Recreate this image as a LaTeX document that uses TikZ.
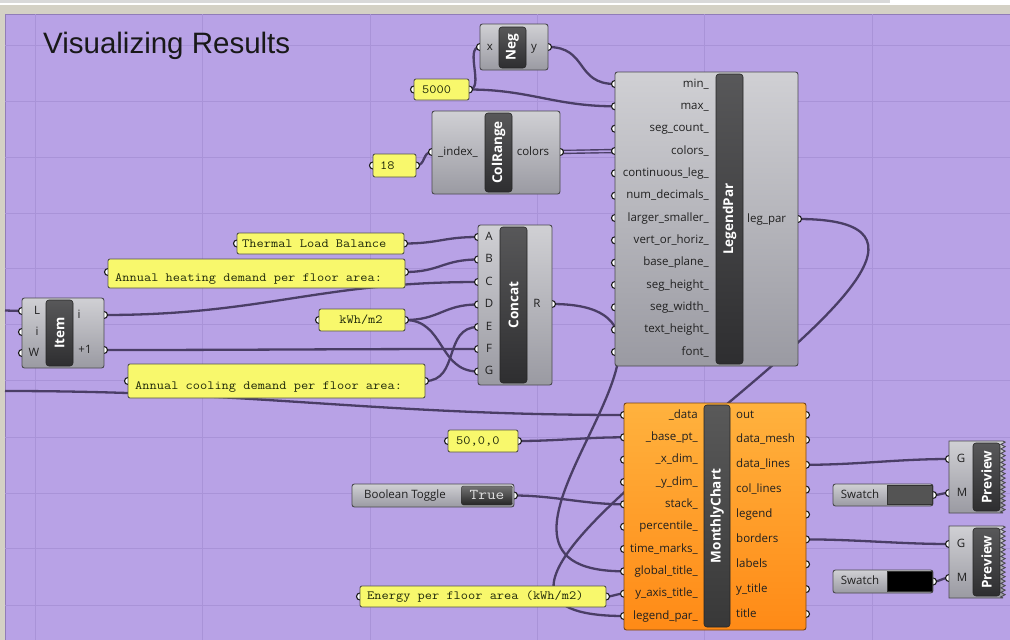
\documentclass[tikz,border=0pt]{standalone}
\usepackage{fontspec}
\usepackage{graphicx}
\setmainfont{Open Sans}
\newfontfamily\titlefamily{Liberation Sans}
\newcommand\ptx[1]{\scalebox{1.12}[1]{#1}}
\usetikzlibrary{decorations.pathmorphing}
\definecolor{bgpurple}{HTML}{B8A2E6}
\definecolor{gridcol}{HTML}{A993D8}
\definecolor{frame}{HTML}{D4D1C5}
\definecolor{compTop}{HTML}{D0D0D4}
\definecolor{compBot}{HTML}{9A9AA2}
\definecolor{compborder}{HTML}{4A4A4E}
\definecolor{barfill}{HTML}{2E2E30}
\definecolor{panelfill}{HTML}{F8F86C}
\definecolor{panelborder}{HTML}{55554A}
\definecolor{paneltext}{HTML}{1E280A}
\definecolor{wirecol}{HTML}{4A3E66}
\definecolor{labcol}{HTML}{202020}
\definecolor{orTop}{HTML}{FFB23E}
\definecolor{orBot}{HTML}{FF8A16}
\definecolor{orBorder}{HTML}{7A4414}
\pgfdeclarelayer{canvas}
\pgfdeclarelayer{wires}
\pgfsetlayers{canvas,wires,main}
\tikzset{
  comp/.style={draw=compborder, line width=0.9pt, rounded corners=2.5pt, top color=compTop, bottom color=compBot, inner sep=0pt},
  orcomp/.style={draw=orBorder, line width=0.9pt, rounded corners=2.5pt, top color=orTop, bottom color=orBot, inner sep=0pt},
  bar/.style={rotate=90, top color=barfill!80!white, bottom color=barfill, draw=black!85, line width=0.6pt, rounded corners=3pt, text=white, font=\fontsize{13.5}{14}\selectfont\bfseries, inner sep=0pt, minimum height=27pt},
  plab/.style={font=\fontsize{11.5}{12}\selectfont, text=labcol, inner sep=0pt, text height=8.5pt, text depth=2.5pt},
  panel/.style={draw=panelborder, fill=panelfill, rounded corners=2pt, line width=0.9pt, inner sep=0pt},
  ptxt/.style={font=\fontsize{12.5}{13}\selectfont\ttfamily, text=paneltext, inner sep=0pt, anchor=west},
  sptxt/.style={font=\fontsize{12.5}{13}\selectfont\ttfamily, text=paneltext, inner sep=0pt, anchor=west},
  port/.style={circle, draw=black!90, fill=white, line width=1.1pt, inner sep=0pt, minimum size=7pt},
  wire/.style={draw=wirecol, line width=2.3pt},
  zig/.style={decoration={zigzag, segment length=4.5pt, amplitude=2.2pt}}
}
\begin{document}
\begin{tikzpicture}[x=1pt,y=-1pt]
\useasboundingbox (0,0) rectangle (1010,640);
\begin{pgfonlayer}{canvas}
  \fill[white] (0,0) rectangle (1010,640);
  \fill[black!15] (0,0) rectangle (890,2.5);
  \fill[frame] (0,5) rectangle (1010,14);
  \fill[frame] (0,5) rectangle (5,640);
  \fill[bgpurple] (5,14) rectangle (1010,640);
  \draw[gridcol!85!black, line width=1pt] (5,14.5) -- (1010,14.5);
  \draw[gridcol!85!black, line width=1pt] (5.5,14) -- (5.5,640);
  \foreach \gx in {35,202,370,537,704,872} \draw[gridcol, line width=0.8pt] (\gx,14) -- (\gx,640);
  \foreach \gy in {45,101,157,213,268.5,324,380,437,493,548,605} \draw[gridcol, line width=0.8pt] (5,\gy) -- (1010,\gy);
\end{pgfonlayer}

\node[font=\titlefamily\fontsize{29.5}{30}\selectfont, text=black!90, anchor=base west, inner sep=0pt] (title) at (43,53) {Visualizing Results};

% ---------- Neg
\node[port] (neg-x) at (480,47) {};
\node[port] (neg-y) at (548,47) {};
\node[comp, minimum width=68pt, minimum height=46pt] (neg) at (514,47) {};
\node[bar, minimum width=41pt] (neg-bar) at (512.5,47.5) {Neg};
\node[plab] (neg-xl) at (490,47) {x};
\node[plab] (neg-yl) at (534,47) {y};

% ---------- 5000
\node[port] (p5000-in) at (414,89.5) {};
\node[port] (p5000-out) at (469,89.5) {};
\node[panel, minimum width=55pt, minimum height=21pt] (p5000) at (441.5,89.5) {};
\node[sptxt] (p5000-t) at (422,89.5) {\ptx{5000}};

% ---------- ColRange
\node[port] (cr-in) at (432,152) {};
\node[port] (cr-out) at (560,152) {};
\node[comp, minimum width=128pt, minimum height=83pt] (cr) at (496,152.5) {};
\node[bar, minimum width=79pt] (cr-bar) at (498.5,152.5) {ColRange};
\node[plab] (cr-inl) at (458,152) {\_index\_};
\node[plab] (cr-outl) at (533,152) {colors};

% ---------- 18
\node[port] (p18-in) at (373,165.5) {};
\node[port] (p18-out) at (416,165.5) {};
\node[panel, minimum width=43pt, minimum height=23pt] (p18) at (394.5,165.5) {};
\node[sptxt] (p18-t) at (380,165.5) {\ptx{18}};

% ---------- LegendPar
\foreach \n/\y in {min/84,max/106.3,segcount/128.7,colors/151,contleg/173.3,numdec/195.7,largsmall/218,vertor/240.3,baseplane/262.7,segheight/285,segwidth/307.3,textheight/329.7,font/352}
  \node[port] (lp-\n) at (615,\y) {};
\node[port] (lp-out) at (798,219) {};
\node[comp, minimum width=183pt, minimum height=294pt] (lp) at (706.5,219) {};
\node[bar, minimum width=290pt] (lp-bar) at (729.5,219) {LegendPar};
\foreach \n/\t/\y in {min/min\_/84,max/max\_/106.3,segcount/seg\_count\_/128.7,colors/colors\_/151,contleg/continuous\_leg\_/173.3,numdec/num\_decimals\_/195.7,largsmall/larger\_smaller\_/218,vertor/vert\_or\_horiz\_/240.3,baseplane/base\_plane\_/262.7,segheight/seg\_height\_/285,segwidth/seg\_width\_/307.3,textheight/text\_height\_/329.7,font/font\_/352}
  \node[plab, anchor=east] (lp-\n-l) at (709,\y) {\t};
\node[plab, anchor=west] (lp-out-l) at (747,219) {leg\_par};

% ---------- Concat
\foreach \n/\y in {A/237,B/259.5,C/282,D/304.5,E/327,F/349,G/371.5}
  \node[port] (cc-\n) at (478,\y) {};
\node[port] (cc-R) at (552,304) {};
\node[comp, minimum width=74pt, minimum height=160pt] (cc) at (515,305) {};
\node[bar, minimum width=156pt] (cc-bar) at (513.5,305) {Concat};
\foreach \n/\y in {A/237,B/259.5,C/282,D/304.5,E/327,F/349,G/371.5}
  \node[plab] (cc-\n-l) at (489,\y) {\n};
\node[plab] (cc-R-l) at (537,304) {R};

% ---------- Item
\node[port] (it-L) at (22,311) {};
\node[port] (it-i) at (22,332) {};
\node[port] (it-W) at (22,353) {};
\node[port] (it-oi) at (104,315) {};
\node[port] (it-op) at (104,350) {};
\node[comp, minimum width=82pt, minimum height=70pt] (it) at (63,333) {};
\node[bar, minimum width=66pt] (it-bar) at (59.5,333) {Item};
\node[plab] (it-L-l) at (37,311) {L};
\node[plab] (it-i-l) at (37,332) {i};
\node[plab] (it-W-l) at (34,353) {W};
\node[plab] (it-oi-l) at (79,315) {i};
\node[plab] (it-op-l) at (85,350) {+1};

% ---------- text panels
\node[port] (tlb-in) at (237,243.5) {};
\node[port] (tlb-out) at (404,243.5) {};
\node[panel, minimum width=167pt, minimum height=21pt] (tlb) at (320.5,243.5) {};
\node[ptxt] (tlb-t) at (242,243.5) {\ptx{Thermal Load Balance}};

\node[port] (heat-in) at (108,272) {};
\node[port] (heat-out) at (405,272) {};
\node[panel, minimum width=297pt, minimum height=29pt] (heat) at (256.5,273.5) {};
\node[ptxt] (heat-t) at (115,279) {\ptx{Annual heating demand per floor area:}};

\node[port] (kwh-in) at (319,320) {};
\node[port] (kwh-out) at (405,320) {};
\node[panel, minimum width=86pt, minimum height=22pt] (kwh) at (362,320) {};
\node[sptxt, anchor=center] (kwh-t) at (361,320) {\ptx{kWh/m2}};

\node[port] (cool-in) at (128,381) {};
\node[port] (cool-out) at (425,381) {};
\node[panel, minimum width=297pt, minimum height=34pt] (cool) at (276.5,381) {};
\node[ptxt] (cool-t) at (135,387) {\ptx{Annual cooling demand per floor area:}};

\node[port] (p50-in) at (448,441) {};
\node[port] (p50-out) at (518,441) {};
\node[panel, minimum width=70pt, minimum height=22pt] (p50) at (483,441) {};
\node[sptxt] (p50-t) at (456,441) {\ptx{50,0,0}};

\node[port] (en-in) at (360,596.5) {};
\node[port] (en-out) at (606,596.5) {};
\node[panel, minimum width=246pt, minimum height=21pt] (en) at (483,596.5) {};
\node[ptxt] (en-t) at (367,596.5) {\ptx{Energy per floor area (kWh/m2)}};

% ---------- Boolean toggle
\node[port] (bt-out) at (514,495.5) {};
\node[comp, minimum width=162pt, minimum height=23pt] (bt) at (433,495.5) {};
\node[draw=black!80, top color=black!55, bottom color=black!85, rounded corners=2pt, minimum width=51pt, minimum height=19pt, inner sep=0pt] (bt-v) at (487,495.5) {};
\node[font=\fontsize{15}{16}\selectfont\ttfamily, text=white!88!black, inner sep=0pt] (bt-vt) at (487,494.5) {\ptx{True}};
\node[plab] (bt-l) at (405,495.5) {Boolean Toggle};

% ---------- MonthlyChart
\foreach \n/\y in {data/415,base/437.3,xdim/459.7,ydim/482,stack/504.3,pct/526.7,tm/549,gt/571.3,yat/593.7,lgp/616}
  \node[port] (mc-\n) at (624,\y) {};
\foreach \n/\y in {out/415,mesh/439.9,dlines/464.8,clines/489.6,legend/514.5,borders/539.4,labels/564.3,ytitle/589.1,title/614}
  \node[port] (mc-\n) at (806,\y) {};
\node[orcomp, minimum width=182pt, minimum height=227pt] (mc) at (715,516.5) {};
\node[bar, minimum width=222pt, minimum height=26pt, top color=black!65, bottom color=black!78] (mc-bar) at (717,516) {MonthlyChart};
\foreach \n/\t/\y in {data/\_data/415,base/\_base\_pt\_/437.3,xdim/\_x\_dim\_/459.7,ydim/\_y\_dim\_/482,stack/stack\_/504.3,pct/percentile\_/526.7,tm/time\_marks\_/549,gt/global\_title\_/571.3,yat/y\_axis\_title\_/593.7,lgp/legend\_par\_/616}
  \node[plab, anchor=east] (mc-\n-l) at (698,\y) {\t};
\foreach \n/\t/\y in {out/out/415,mesh/data\_mesh/439.9,dlines/data\_lines/464.8,clines/col\_lines/489.6,legend/legend/514.5,borders/borders/539.4,labels/labels/564.3,ytitle/y\_title/589.1,title/title/614}
  \node[plab, anchor=west] (mc-\n-l) at (736,\y) {\t};

% ---------- Swatches
\node[port] (sw1-out) at (933,495) {};
\node[comp, minimum width=100pt, minimum height=22pt] (sw1) at (883,495) {};
\node[draw=black!80, fill=black!67, minimum width=45pt, minimum height=19pt, inner sep=0pt] (sw1-c) at (909.5,495) {};
\node[plab] (sw1-l) at (860,495) {Swatch};
\node[port] (sw2-out) at (933,581.5) {};
\node[comp, minimum width=100pt, minimum height=23pt] (sw2) at (883,581.5) {};
\node[draw=black!80, fill=black, minimum width=45pt, minimum height=20pt, inner sep=0pt] (sw2-c) at (909.5,581.5) {};
\node[plab] (sw2-l) at (860,581.5) {Swatch};

% ---------- Previews
\node[port] (pv1-G) at (949,459) {};
\node[port] (pv1-M) at (949,493) {};
\node[inner sep=0pt, minimum width=54pt, minimum height=72pt] (pv1) at (976,477) {};
\path[draw=compborder, line width=0.9pt, top color=compTop, bottom color=compBot] (949,441) -- (1003,441) decorate[zig]{-- (1003,513)} -- (949,513) -- cycle;
\node[bar, minimum width=68pt] (pv1-bar) at (986.5,477) {Preview};
\node[plab] (pv1-G-l) at (961,459) {G};
\node[plab] (pv1-M-l) at (962,493) {M};

\node[port] (pv2-G) at (949,544) {};
\node[port] (pv2-M) at (949,578) {};
\node[inner sep=0pt, minimum width=54pt, minimum height=72pt] (pv2) at (976,562) {};
\path[draw=compborder, line width=0.9pt, top color=compTop, bottom color=compBot] (949,526) -- (1003,526) decorate[zig]{-- (1003,598)} -- (949,598) -- cycle;
\node[bar, minimum width=68pt] (pv2-bar) at (986.5,562) {Preview};
\node[plab] (pv2-G-l) at (961,544) {G};
\node[plab] (pv2-M-l) at (962,578) {M};

\coordinate (left-a) at (5,310.5);
\coordinate (left-b) at (5,391);

% ---------- wires
\begin{pgfonlayer}{wires}
  \draw[wire] (p5000-out.center) .. controls +(16,0) and +(-16,0) .. (neg-x.center);
  \draw[wire] (neg-y.center) .. controls +(40,0) and +(-40,0) .. (lp-min.center);
  \draw[wire] (p5000-out.center) .. controls +(60,0) and +(-60,0) .. (lp-max.center);
  \draw[wire] (p18-out.center) .. controls +(10,0) and +(-10,0) .. (cr-in.center);
  \draw[wire, line width=1.4pt, double=bgpurple, double distance=1.6pt] (cr-out.center) -- (lp-colors.center);
  \draw[wire] (tlb-out.center) .. controls +(35,0) and +(-35,0) .. (cc-A.center);
  \draw[wire] (heat-out.center) .. controls +(35,0) and +(-35,0) .. (cc-B.center);
  \draw[wire] (it-oi.center) .. controls +(160,0) and +(-160,0) .. (cc-C.center);
  \draw[wire] (kwh-out.center) .. controls +(35,0) and +(-35,0) .. (cc-D.center);
  \draw[wire] (kwh-out.center) .. controls +(40,0) and +(-40,0) .. (cc-G.center);
  \draw[wire] (cool-out.center) .. controls +(35,0) and +(-35,0) .. (cc-E.center);
  \draw[wire] (it-op.center) .. controls +(150,0) and +(-150,0) .. (cc-F.center);
  \draw[wire] (cc-R.center) .. controls +(200,0) and +(-200,0) .. (mc-gt.center);
  \draw[wire] (lp-out.center) .. controls +(300,0) and +(-300,0) .. (mc-lgp.center);
  \draw[wire] (left-b) .. controls +(250,0) and +(-250,0) .. (mc-data.center);
  \draw[wire] (left-a) -- (it-L.center);
  \draw[wire] (p50-out.center) .. controls +(40,0) and +(-40,0) .. (mc-base.center);
  \draw[wire] (bt-out.center) .. controls +(40,0) and +(-40,0) .. (mc-stack.center);
  \draw[wire] (en-out.center) .. controls +(8,0) and +(-8,0) .. (mc-yat.center);
  \draw[wire] (mc-dlines.center) .. controls +(50,0) and +(-50,0) .. (pv1-G.center);
  \draw[wire] (mc-borders.center) .. controls +(50,0) and +(-50,0) .. (pv2-G.center);
  \draw[wire] (sw1-out.center) .. controls +(8,0) and +(-8,0) .. (pv1-M.center);
  \draw[wire] (sw2-out.center) .. controls +(8,0) and +(-8,0) .. (pv2-M.center);
\end{pgfonlayer}
\end{tikzpicture}
\end{document}
